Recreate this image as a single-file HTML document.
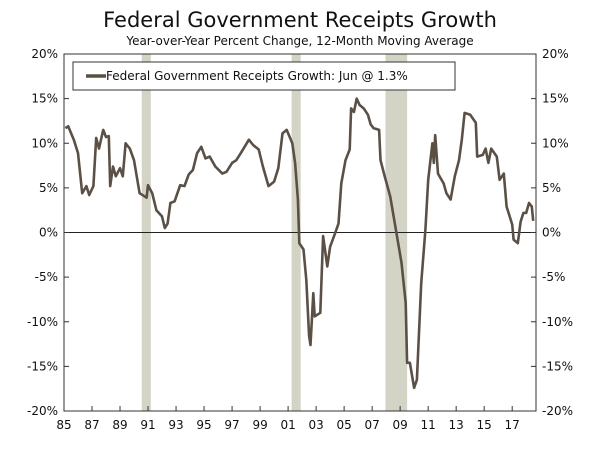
<!DOCTYPE html>
<html><head><meta charset="utf-8"><style>
body{margin:0;background:#fff;font-family:"Liberation Sans","DejaVu Sans",sans-serif}
svg text{font-family:"DejaVu Sans","Liberation Sans",sans-serif}
</style></head><body>
<svg id="c" width="600" height="445">
<text x="300" y="27" text-anchor="middle" font-size="21" fill="#111">Federal Government Receipts Growth</text>
<text x="300" y="45" text-anchor="middle" font-size="12" fill="#111">Year-over-Year Percent Change, 12-Month Moving Average</text>
<g id="rec"></g><g id="axes"></g><g id="line"></g>
<g>
<rect x="73" y="62" width="382" height="28" fill="#fff" stroke="#333" stroke-width="1"/>
<line x1="86" y1="76" x2="106" y2="76" stroke="#5a5045" stroke-width="3.5"/>
<text x="106" y="80" font-size="12" fill="#111">Federal Government Receipts Growth: Jun @ 1.3%</text>
</g>
</svg>
<script>
const years=[1985.1,1985.3,1985.7,1986.0,1986.3,1986.6,1986.8,1987.1,1987.3,1987.5,1987.8,1988.0,1988.2,1988.3,1988.5,1988.7,1989.0,1989.2,1989.4,1989.7,1990.0,1990.4,1990.9,1991.0,1991.3,1991.6,1992.0,1992.2,1992.4,1992.6,1992.9,1993.3,1993.6,1993.9,1994.2,1994.5,1994.8,1995.1,1995.4,1995.8,1996.3,1996.6,1997.0,1997.3,1997.7,1998.2,1998.5,1998.9,1999.2,1999.6,2000.0,2000.3,2000.6,2000.9,2001.3,2001.5,2001.7,2001.8,2002.1,2002.3,2002.5,2002.6,2002.8,2002.9,2003.3,2003.5,2003.8,2004.0,2004.4,2004.6,2004.8,2005.1,2005.4,2005.5,2005.7,2005.9,2006.1,2006.4,2006.7,2006.9,2007.1,2007.5,2007.6,2007.9,2008.3,2008.7,2009.1,2009.4,2009.5,2009.7,2010.0,2010.2,2010.5,2010.8,2011.0,2011.3,2011.4,2011.5,2011.7,2012.1,2012.3,2012.6,2012.9,2013.2,2013.4,2013.6,2014.0,2014.4,2014.5,2014.9,2015.1,2015.3,2015.5,2015.9,2016.1,2016.4,2016.6,2017.0,2017.1,2017.4,2017.6,2017.8,2018.0,2018.2,2018.4,2018.5];
const values=[11.7,11.9,10.4,8.9,4.4,5.2,4.2,5.2,10.6,9.4,11.5,10.7,10.8,5.2,7.4,6.3,7.2,6.3,10.0,9.4,8.1,4.4,3.9,5.3,4.4,2.5,1.8,0.5,1.0,3.3,3.5,5.3,5.2,6.5,7.0,8.9,9.6,8.3,8.5,7.4,6.6,6.8,7.8,8.1,9.1,10.4,9.8,9.3,7.4,5.2,5.7,7.2,11.1,11.5,10.0,7.8,3.7,-1.2,-1.9,-5.3,-11.6,-12.6,-6.8,-9.4,-9.0,-0.4,-3.8,-1.6,0.1,1.0,5.5,8.1,9.3,13.9,13.5,15.0,14.3,13.9,13.2,12.1,11.7,11.5,8.1,6.3,4.0,0.3,-3.4,-7.9,-14.6,-14.6,-17.4,-16.5,-5.7,0.3,5.9,10.0,7.8,10.9,6.6,5.5,4.4,3.7,6.3,8.1,10.4,13.4,13.2,12.3,8.5,8.7,9.4,7.8,9.4,8.5,5.9,6.6,2.9,0.9,-0.8,-1.2,1.2,2.2,2.2,3.3,2.9,1.3];
const recStart=[1990.55,2001.25,2007.95];
const recEnd=[1991.2,2001.9,2009.5];
const yTicks=[20,15,10,5,0,-5,-10,-15,-20];
const xTickLabels=["85","87","89","91","93","95","97","99","01","03","05","07","09","11","13","15","17"];
const xTickYears=[1985,1987,1989,1991,1993,1995,1997,1999,2001,2003,2005,2007,2009,2011,2013,2015,2017];
const L=64,R=536,T=54,B=411,X0=1985,X1=2018.7;
const sx=v=>L+(v-X0)/(X1-X0)*(R-L);
const sy=v=>T+(20-v)/40*(B-T);
const NS="http://www.w3.org/2000/svg";
function mk(p,t,a){const e=document.createElementNS(NS,t);for(const k in a)e.setAttribute(k,a[k]);document.getElementById(p).appendChild(e);return e;}
recStart.forEach((s,i)=>{const e=mk('rec','rect',{x:sx(s),y:T,width:sx(recEnd[i])-sx(s),height:B-T,fill:'#d4d4c6'});

});
let e=mk('axes','rect',{x:L,y:T,width:R-L,height:B-T,fill:'none',stroke:'#333','stroke-width':1});


e=mk('axes','line',{x1:L,x2:R,y1:sy(0),y2:sy(0),stroke:'#222','stroke-width':1});


yTicks.forEach(v=>{const y=sy(v);
mk('axes','line',{x1:L,x2:L+5,y1:y,y2:y,stroke:'#333'});
mk('axes','line',{x1:R-5,x2:R,y1:y,y2:y,stroke:'#333'});
let t=mk('axes','text',{x:L-6,y:y+4,'text-anchor':'end','font-size':12,fill:'#111'});t.textContent=v+'%';


t=mk('axes','text',{x:R+6,y:y+4,'font-size':12,fill:'#111'});t.textContent=v+'%';

});
xTickYears.forEach((yr,i)=>{const x=sx(yr);
if(i>0)mk('axes','line',{x1:x,x2:x,y1:B-5,y2:B,stroke:'#333'});
const t=mk('axes','text',{x:x,y:B+18,'text-anchor':'middle','font-size':12,fill:'#111'});t.textContent=xTickLabels[i];

});
const d=years.map((y,i)=>(i?'L':'M')+sx(y).toFixed(1)+','+sy(values[i]).toFixed(1)).join('');
e=mk('line','path',{d:d,fill:'none',stroke:'#5a5045','stroke-width':2.6,'stroke-linejoin':'round'});


</script>
</body></html>
